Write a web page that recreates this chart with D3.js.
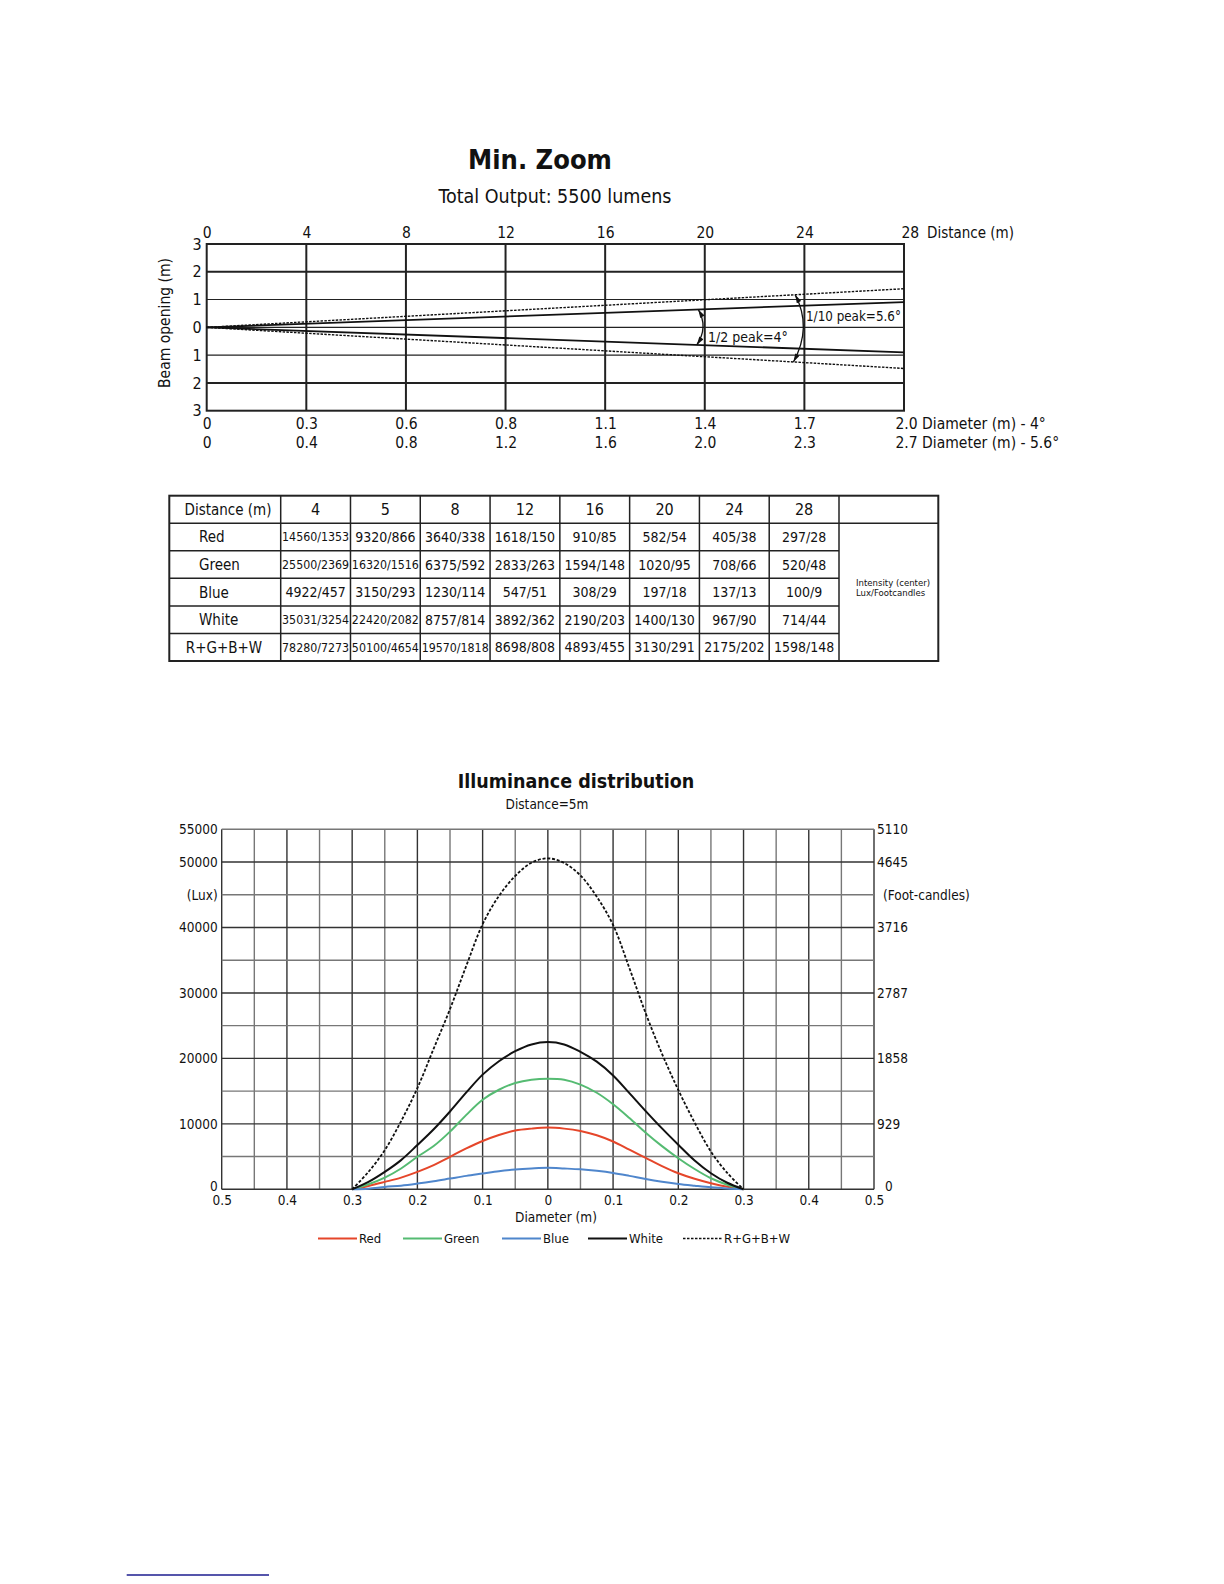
<!DOCTYPE html>
<html>
<head>
<meta charset="utf-8">
<script src="https://cdn.jsdelivr.net/npm/d3@7"></script>
<style>
  html, body { margin: 0; padding: 0; background: #fff; }
  svg text { font-family: "DejaVu Sans Condensed", "DejaVu Sans", sans-serif; font-stretch: condensed; fill: #111; }
</style>
</head>
<body>
<svg id="page" width="1224" height="1584"></svg>
<script>
// ---------------- DATA ----------------
// Beam diagram
const distanceTicks = [0, 4, 8, 12, 16, 20, 24, 28];
const beamTicks = [-3, -2, -1, 0, 1, 2, 3];
const diameter4Labels = ["0", "0.3", "0.6", "0.8", "1.1", "1.4", "1.7", "2.0"];
const diameter56Labels = ["0", "0.4", "0.8", "1.2", "1.6", "2.0", "2.3", "2.7"];
const beamEndDistance = 28;
const halfPeakEdges = [0.91, -0.90];     // beam half-width at 28 m (solid)
const tenthPeakEdges = [1.39, -1.48];    // beam half-width at 28 m (dashed)

// Intensity table
const tableDistances = [4, 5, 8, 12, 16, 20, 24, 28];
const tableRowNames = ["Red", "Green", "Blue", "White", "R+G+B+W"];
const redValues   = ["14560/1353", "9320/866", "3640/338", "1618/150", "910/85", "582/54", "405/38", "297/28"];
const greenValues = ["25500/2369", "16320/1516", "6375/592", "2833/263", "1594/148", "1020/95", "708/66", "520/48"];
const blueValues  = ["4922/457", "3150/293", "1230/114", "547/51", "308/29", "197/18", "137/13", "100/9"];
const whiteValues = ["35031/3254", "22420/2082", "8757/814", "3892/362", "2190/203", "1400/130", "967/90", "714/44"];
const sumValues   = ["78280/7273", "50100/4654", "19570/1818", "8698/808", "4893/455", "3130/291", "2175/202", "1598/148"];

// Illuminance distribution (distance = 5 m)
const diameterPos = [-0.3, -0.275, -0.25, -0.225, -0.2, -0.175, -0.15, -0.125, -0.1, -0.075, -0.05, -0.025, 0,
                     0.025, 0.05, 0.075, 0.1, 0.125, 0.15, 0.175, 0.2, 0.225, 0.25, 0.275, 0.3];
const redLux   = [0, 510, 1130, 1790, 2660, 3690, 4970, 6250, 7380, 8300, 8970, 9270, 9430,
                  9270, 8900, 8250, 7300, 6050, 4800, 3550, 2450, 1600, 920, 380, 0];
const greenLux = [0, 770, 1790, 3180, 4970, 6610, 8810, 11370, 13680, 15210, 16240, 16750, 16900,
                  16750, 16000, 14750, 13000, 10900, 8650, 6600, 4750, 3100, 1690, 700, 0];
const blueLux  = [0, 100, 360, 560, 870, 1230, 1640, 2050, 2410, 2770, 3020, 3180, 3280,
                  3180, 3050, 2820, 2500, 2050, 1560, 1150, 820, 550, 300, 120, 0];
const whiteLux = [0, 1130, 2660, 4460, 6760, 9170, 11890, 14800, 17520, 19570, 21100, 22130, 22490,
                  22130, 21000, 19500, 17400, 14700, 11950, 9300, 6800, 4400, 2450, 1000, 0];
const sumLux   = [0, 2660, 5990, 10400, 15470, 21500, 27540, 34150, 40500, 44820, 47870, 49900, 50560,
                  49850, 47950, 44700, 40380, 33800, 26890, 20700, 15170, 10200, 5770, 2500, 0];
const diameterTicks = [-0.5, -0.4, -0.3, -0.2, -0.1, 0, 0.1, 0.2, 0.3, 0.4, 0.5];
const luxTicks = [0, 10000, 20000, 30000, 40000, 45000, 50000, 55000];
const luxLabels = ["0", "10000", "20000", "30000", "40000", "(Lux)", "50000", "55000"];
const fcLabels = ["0", "929", "1858", "2787", "3716", "(Foot-candles)", "4645", "5110"];
const seriesNames = ["Red", "Green", "Blue", "White", "R+G+B+W"];
const seriesColors = ["#e5462a", "#55bb72", "#4f86cc", "#111111", "#111111"];

// ---------------- DRAW ----------------
const svg = d3.select("#page");

// Titles
svg.append("text").attr("x", 540).attr("y", 169).attr("text-anchor", "middle")
  .style("font-size", "27px").style("font-weight", "bold").text("Min. Zoom");
svg.append("text").attr("x", 555).attr("y", 203).attr("text-anchor", "middle")
  .style("font-size", "19.5px").text("Total Output: 5500 lumens");

// ---- Beam diagram ----
const xD = d3.scaleLinear().domain([0, 28]).range([206.7, 904]);
const yB = d3.scaleLinear().domain([-3, 3]).range([410.7, 244]);
const beam = svg.append("g");

// grid
beam.selectAll("line.v").data(distanceTicks.slice(1, -1)).join("line")
  .attr("x1", d => xD(d)).attr("x2", d => xD(d)).attr("y1", yB(3)).attr("y2", yB(-3))
  .attr("stroke", "#222").attr("stroke-width", 2);
beam.selectAll("line.h").data(beamTicks.slice(1, -1)).join("line")
  .attr("x1", xD(0)).attr("x2", xD(28)).attr("y1", d => yB(d)).attr("y2", d => yB(d))
  .attr("stroke", "#222").attr("stroke-width", d => Math.abs(d) === 2 ? 2 : 1.1);
beam.append("rect").attr("x", xD(0)).attr("y", yB(3)).attr("width", xD(28) - xD(0)).attr("height", yB(-3) - yB(3))
  .attr("fill", "none").attr("stroke", "#222").attr("stroke-width", 2);

// beam edges
halfPeakEdges.forEach(v => {
  beam.append("line").attr("x1", xD(0)).attr("y1", yB(0)).attr("x2", xD(beamEndDistance)).attr("y2", yB(v))
    .attr("stroke", "#111").attr("stroke-width", 1.8);
});
tenthPeakEdges.forEach(v => {
  beam.append("line").attr("x1", xD(0)).attr("y1", yB(0)).attr("x2", xD(beamEndDistance)).attr("y2", yB(v))
    .attr("stroke", "#111").attr("stroke-width", 1.4).attr("stroke-dasharray", "2.5,1.3");
});

// arrows
const defs = svg.append("defs");
defs.append("marker").attr("id", "arr").attr("viewBox", "0 0 10 6").attr("refX", 10).attr("refY", 3)
  .attr("markerWidth", 9).attr("markerHeight", 5).attr("markerUnits", "userSpaceOnUse")
  .attr("orient", "auto-start-reverse")
  .append("path").attr("d", "M0,0 L10,3 L0,6 Z").attr("fill", "#111");
function arcArrow(d0, v0, dc, d1, v1) {
  const p = d3.path();
  p.moveTo(xD(d0), yB(v0));
  p.quadraticCurveTo(xD(dc), yB(0), xD(d1), yB(v1));
  beam.append("path").attr("d", p.toString()).attr("fill", "none").attr("stroke", "#111")
    .attr("stroke-width", 1.3).attr("marker-start", "url(#arr)").attr("marker-end", "url(#arr)");
}
arcArrow(19.74, halfPeakEdges[0] * 19.74 / 28, 20.15, 19.68, halfPeakEdges[1] * 19.68 / 28);
arcArrow(23.63, tenthPeakEdges[0] * 23.63 / 28, 24.32, 23.56, tenthPeakEdges[1] * 23.56 / 28);
beam.append("text").attr("x", 708).attr("y", 342).style("font-size", "14px").text("1/2 peak=4°");
beam.append("text").attr("x", 806).attr("y", 321).style("font-size", "13.3px").text("1/10 peak=5.6°");

// axes
const axTop = beam.append("g").attr("transform", `translate(0,${yB(3)})`)
  .call(d3.axisTop(xD).tickValues(distanceTicks).tickSize(0).tickPadding(6));
axTop.select(".domain").remove();
axTop.selectAll("text").style("font-size", "15.5px").attr("fill", "#111");
axTop.selectAll(".tick").filter(d => d === 28).select("text").attr("text-anchor", "start").attr("x", -3);
beam.append("text").attr("x", 927).attr("y", 238).style("font-size", "15px").text("Distance (m)");

const axLeft = beam.append("g").attr("transform", `translate(${xD(0)},0)`)
  .call(d3.axisLeft(yB).tickValues(beamTicks).tickSize(0).tickPadding(5).tickFormat(d => Math.abs(d)));
axLeft.select(".domain").remove();
axLeft.selectAll("text").style("font-size", "16px").attr("fill", "#111");

function diamAxis(labels, dyOff, suffix) {
  const ax = beam.append("g").attr("transform", `translate(0,${yB(-3) + dyOff})`)
    .call(d3.axisBottom(xD).tickValues(distanceTicks).tickSize(0).tickPadding(7)
      .tickFormat((d, i) => labels[i]));
  ax.select(".domain").remove();
  ax.selectAll("text").style("font-size", "15.5px").attr("fill", "#111");
  ax.selectAll(".tick").filter(d => d === 28).select("text")
    .attr("text-anchor", "start").attr("x", -9).text(() => labels[labels.length - 1] + " " + suffix);
}
diamAxis(diameter4Labels, 0, "Diameter (m) - 4°");
diamAxis(diameter56Labels, 19, "Diameter (m) - 5.6°");

beam.append("text").attr("transform", "translate(170,323) rotate(-90)").attr("text-anchor", "middle")
  .style("font-size", "15.5px").text("Beam opening (m)");

// ---- Table ----
const table = svg.append("g");
const tLeft = 169.3, tFirst = 280.7, tDataEnd = 839, tRight = 938.3, tTop = 495.7, tBottom = 661;
const colX = d3.scaleBand().domain(tableDistances).range([tFirst, tDataEnd]);
const rowY = d3.scaleBand().domain(["hdr"].concat(tableRowNames)).range([tTop, tBottom]);
const rowsData = [redValues, greenValues, blueValues, whiteValues, sumValues];

table.append("rect").attr("x", tLeft).attr("y", tTop).attr("width", tRight - tLeft).attr("height", tBottom - tTop)
  .attr("fill", "none").attr("stroke", "#222").attr("stroke-width", 2);
[tFirst].concat(tableDistances.map(d => colX(d) + colX.bandwidth())).forEach(x => {
  table.append("line").attr("x1", x).attr("x2", x).attr("y1", tTop).attr("y2", tBottom)
    .attr("stroke", "#222").attr("stroke-width", 1.5);
});
tableRowNames.forEach((r, i) => {
  const y = rowY(r);
  table.append("line").attr("x1", tLeft).attr("x2", i === 0 ? tRight : tDataEnd).attr("y1", y).attr("y2", y)
    .attr("stroke", "#222").attr("stroke-width", 1.5);
});
const hY = rowY("hdr") + rowY.bandwidth() / 2;
table.append("text").attr("x", (tLeft + tFirst) / 2 + 3).attr("y", hY).attr("dy", "0.36em")
  .attr("text-anchor", "middle").style("font-size", "15px").text("Distance (m)");
tableDistances.forEach(d => {
  table.append("text").attr("x", colX(d) + colX.bandwidth() / 2).attr("y", hY).attr("dy", "0.36em")
    .attr("text-anchor", "middle").style("font-size", "16px").text(d);
});
tableRowNames.forEach((r, i) => {
  const cy = rowY(r) + rowY.bandwidth() / 2;
  table.append("text").attr("x", r === "R+G+B+W" ? 224 : 199).attr("y", cy).attr("dy", "0.36em")
    .attr("text-anchor", r === "R+G+B+W" ? "middle" : "start").style("font-size", "15px").text(r);
  rowsData[i].forEach((v, j) => {
    table.append("text").attr("x", colX(tableDistances[j]) + colX.bandwidth() / 2).attr("y", cy).attr("dy", "0.36em")
      .attr("text-anchor", "middle").style("font-size", v.length >= 10 ? "12.3px" : "14px").text(v);
  });
});
table.append("text").attr("x", 856).attr("y", 586).style("font-size", "9.5px").text("Intensity (center)");
table.append("text").attr("x", 856).attr("y", 596).style("font-size", "9.5px").text("Lux/Footcandles");

// ---- Illuminance distribution ----
svg.append("text").attr("x", 576).attr("y", 788).attr("text-anchor", "middle")
  .style("font-size", "19.5px").style("font-weight", "bold").text("Illuminance distribution");
svg.append("text").attr("x", 547).attr("y", 809).attr("text-anchor", "middle")
  .style("font-size", "13.5px").text("Distance=5m");

const xI = d3.scaleLinear().domain([-0.5, 0.5]).range([221.7, 874]);
const yI = d3.scaleLinear().domain([0, 55000]).range([1189.3, 829.3]);
const ill = svg.append("g");

ill.selectAll("line.gv").data(d3.range(0, 21)).join("line")
  .attr("x1", i => xI(-0.5 + i * 0.05)).attr("x2", i => xI(-0.5 + i * 0.05))
  .attr("y1", yI(55000)).attr("y2", yI(0))
  .attr("stroke", i => i % 2 ? "#777" : "#333").attr("stroke-width", 1.4);
ill.selectAll("line.gh").data(d3.range(0, 12)).join("line")
  .attr("x1", xI(-0.5)).attr("x2", xI(0.5))
  .attr("y1", i => yI(i * 5000)).attr("y2", i => yI(i * 5000))
  .attr("stroke", i => i % 2 ? "#777" : "#333").attr("stroke-width", 1.4);

const axB = ill.append("g").attr("transform", `translate(0,${yI(0)})`)
  .call(d3.axisBottom(xI).tickValues(diameterTicks).tickSize(0).tickPadding(6.5)
    .tickFormat(d => d3.format("")(Math.abs(+d.toFixed(1)))));
axB.select(".domain").remove();
axB.selectAll("text").style("font-size", "13.5px").attr("fill", "#111");

const axL = ill.append("g").attr("transform", `translate(${xI(-0.5)},0)`)
  .call(d3.axisLeft(yI).tickValues(luxTicks).tickSize(0).tickPadding(4).tickFormat((d, i) => luxLabels[i]));
axL.select(".domain").remove();
axL.selectAll("text").style("font-size", "13.5px").attr("fill", "#111");
axL.selectAll(".tick").filter(d => d === 0).select("text").attr("dy", "0.1em");

const axR = ill.append("g").attr("transform", `translate(${xI(0.5)},0)`)
  .call(d3.axisRight(yI).tickValues(luxTicks).tickSize(0).tickPadding(3).tickFormat((d, i) => fcLabels[i]));
axR.select(".domain").remove();
axR.selectAll("text").style("font-size", "13.5px").attr("fill", "#111");
axR.selectAll(".tick").filter(d => d === 45000).select("text").attr("x", 9);
axR.selectAll(".tick").filter(d => d === 0).select("text").attr("x", 11).attr("dy", "0.1em");

ill.append("text").attr("x", 556).attr("y", 1222).attr("text-anchor", "middle")
  .style("font-size", "13.5px").text("Diameter (m)");

const line = d3.line().x((d, i) => xI(diameterPos[i])).y(d => yI(d)).curve(d3.curveCatmullRom.alpha(0.5));
const seriesData = [redLux, greenLux, blueLux, whiteLux, sumLux];
seriesData.forEach((s, k) => {
  ill.append("path").attr("d", line(s)).attr("fill", "none").attr("stroke", seriesColors[k])
    .attr("stroke-width", k === 4 ? 1.8 : 2)
    .attr("stroke-dasharray", k === 4 ? "3,1.8" : null);
});

// legend
const legendX = [318, 403, 502, 588, 683];
seriesNames.forEach((n, k) => {
  ill.append("line").attr("x1", legendX[k]).attr("x2", legendX[k] + 39).attr("y1", 1238.5).attr("y2", 1238.5)
    .attr("stroke", seriesColors[k]).attr("stroke-width", k === 4 ? 1.4 : 2)
    .attr("stroke-dasharray", k === 4 ? "2.5,1.5" : null);
  ill.append("text").attr("x", legendX[k] + 41).attr("y", 1243).style("font-size", "13px").text(n);
});

// footer rule
svg.append("line").attr("x1", 126.7).attr("x2", 269).attr("y1", 1575).attr("y2", 1575)
  .attr("stroke", "#1c1c8f").attr("stroke-width", 1.4);
</script>
</body>
</html>
